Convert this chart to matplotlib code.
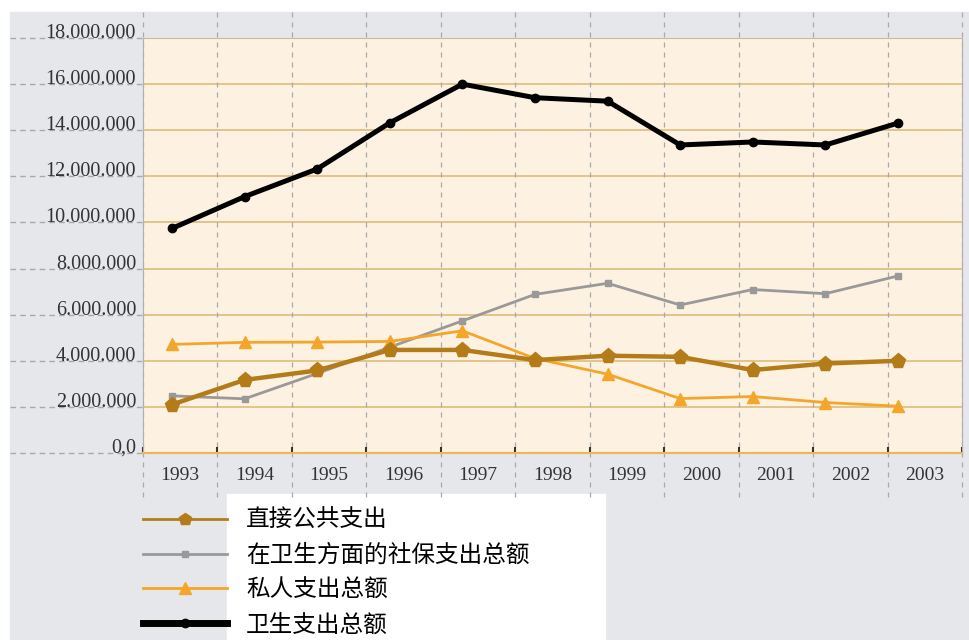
import matplotlib
matplotlib.use('Agg')
import matplotlib.pyplot as plt
import numpy as np
from matplotlib.patches import Rectangle
from matplotlib.ticker import FuncFormatter

plt.rcParams['font.family'] = ['Noto Sans CJK SC', 'DejaVu Sans']

# values in millions
years = ['1993', '1994', '1995', '1996', '1997', '1998', '1999', '2000', '2001', '2002', '2003']
direct_public = [2.10, 3.17, 3.58, 4.47, 4.47, 4.03, 4.22, 4.17, 3.60, 3.88, 4.00]
social_security = [2.48, 2.35, 3.45, 4.59, 5.73, 6.88, 7.36, 6.42, 7.09, 6.91, 7.68]
private = [4.71, 4.80, 4.81, 4.84, 5.30, 4.10, 3.42, 2.36, 2.45, 2.19, 2.03]
total = [9.74, 11.12, 12.32, 14.32, 16.00, 15.41, 15.26, 13.36, 13.49, 13.36, 14.31]
labels = ['直接公共支出', '在卫生方面的社保支出总额', '私人支出总额', '卫生支出总额']

W, H = 970, 640
fig = plt.figure(figsize=(9.7, 6.4), dpi=100)
fig.patches.append(Rectangle((10 / W, 0), 1, (H - 12) / H, transform=fig.transFigure,
                             color='#e5e7ea', zorder=-10))
fig.patches.append(Rectangle((227 / W, 0), (605 - 227) / W, 146 / H, transform=fig.transFigure,
                             color='white', zorder=-5))

ax = fig.add_axes([143 / W, (H - 453) / H, 819 / W, 415 / H])
ax.set_facecolor('#fdf2e2')

x = np.arange(len(years))
left, right = (143 - 172) / 72.6, (962 - 172) / 72.6
band = (right - left) / len(years)
bounds = left + band * np.arange(len(years) + 1)
centers = bounds[:-1] + band / 2
ax.set_xlim(left, right)
ax.set_ylim(0, 18e6)

yticks = np.arange(0, 18e6 + 1, 2e6)
for v in yticks:
    if v > 0:
        ax.axhline(v, 0, 1, color='#dfbb7c', lw=1.2, zorder=1)
    ax.axhline(v, xmin=-133 / 819, xmax=0, clip_on=False, color='#a9a9a9',
               lw=1, ls=(0, (4, 3)), zorder=1)
for b in bounds:
    ax.axvline(b, ymin=-0.106, ymax=1.063, clip_on=False, color='#a9a9a9',
               lw=0.9, ls=(0, (4, 4)), zorder=1)

v = lambda s: np.array(s) * 1e6
l1, = ax.plot(x, v(social_security), color='#999999', lw=2, marker='s', ms=5, zorder=3)
l2, = ax.plot(x, v(private), color='#f4a62a', lw=2, marker='^', ms=9, zorder=3)
l3, = ax.plot(x, v(direct_public), color='#b47c18', lw=3.2, marker='p', ms=11, zorder=4)
l4, = ax.plot(x, v(total), color='black', lw=3.6, marker='o', ms=6, zorder=5)


def fmt(val, pos):
    if val == 0:
        return '0,0'
    return f'{int(val):,}'.replace(',', '.')


ax.set_yticks(yticks)
ax.yaxis.set_major_formatter(FuncFormatter(fmt))
ax.tick_params(axis='y', length=0, pad=5, labelsize=14.5, labelcolor='#333333',
               labelfontfamily='Liberation Serif')
for t in ax.get_yticklabels():
    t.set_verticalalignment('baseline')

ax.set_xticks(centers, years)
ax.set_xticks(bounds, minor=True)
ax.tick_params(axis='x', which='major', length=0, pad=10, labelsize=14, labelcolor='#333333',
               labelfontfamily='Liberation Serif')
ax.tick_params(axis='x', which='minor', direction='in', length=4, width=1.5, color='#333333')

for s in ['left', 'right']:
    ax.spines[s].set_color('#b0b0b0')
ax.spines['top'].set_color('#c9b9a0')
ax.spines['bottom'].set_color('#f2b552')
ax.spines['bottom'].set_linewidth(1.5)

leg = fig.legend([l3, l1, l2, l4], labels, loc='upper left',
                 bbox_to_anchor=(143 / W, (H - 509) / H), frameon=False, fontsize=17,
                 handlelength=3.56, handletextpad=0.8, labelspacing=0.5,
                 borderpad=0, borderaxespad=0)
for line, lw, ms in zip(leg.get_lines(), [2, 2, 2, 5], [9, 5, 8, 6]):
    line.set_linewidth(lw)
    line.set_markersize(ms)

fig.savefig('out.png', dpi=100)
